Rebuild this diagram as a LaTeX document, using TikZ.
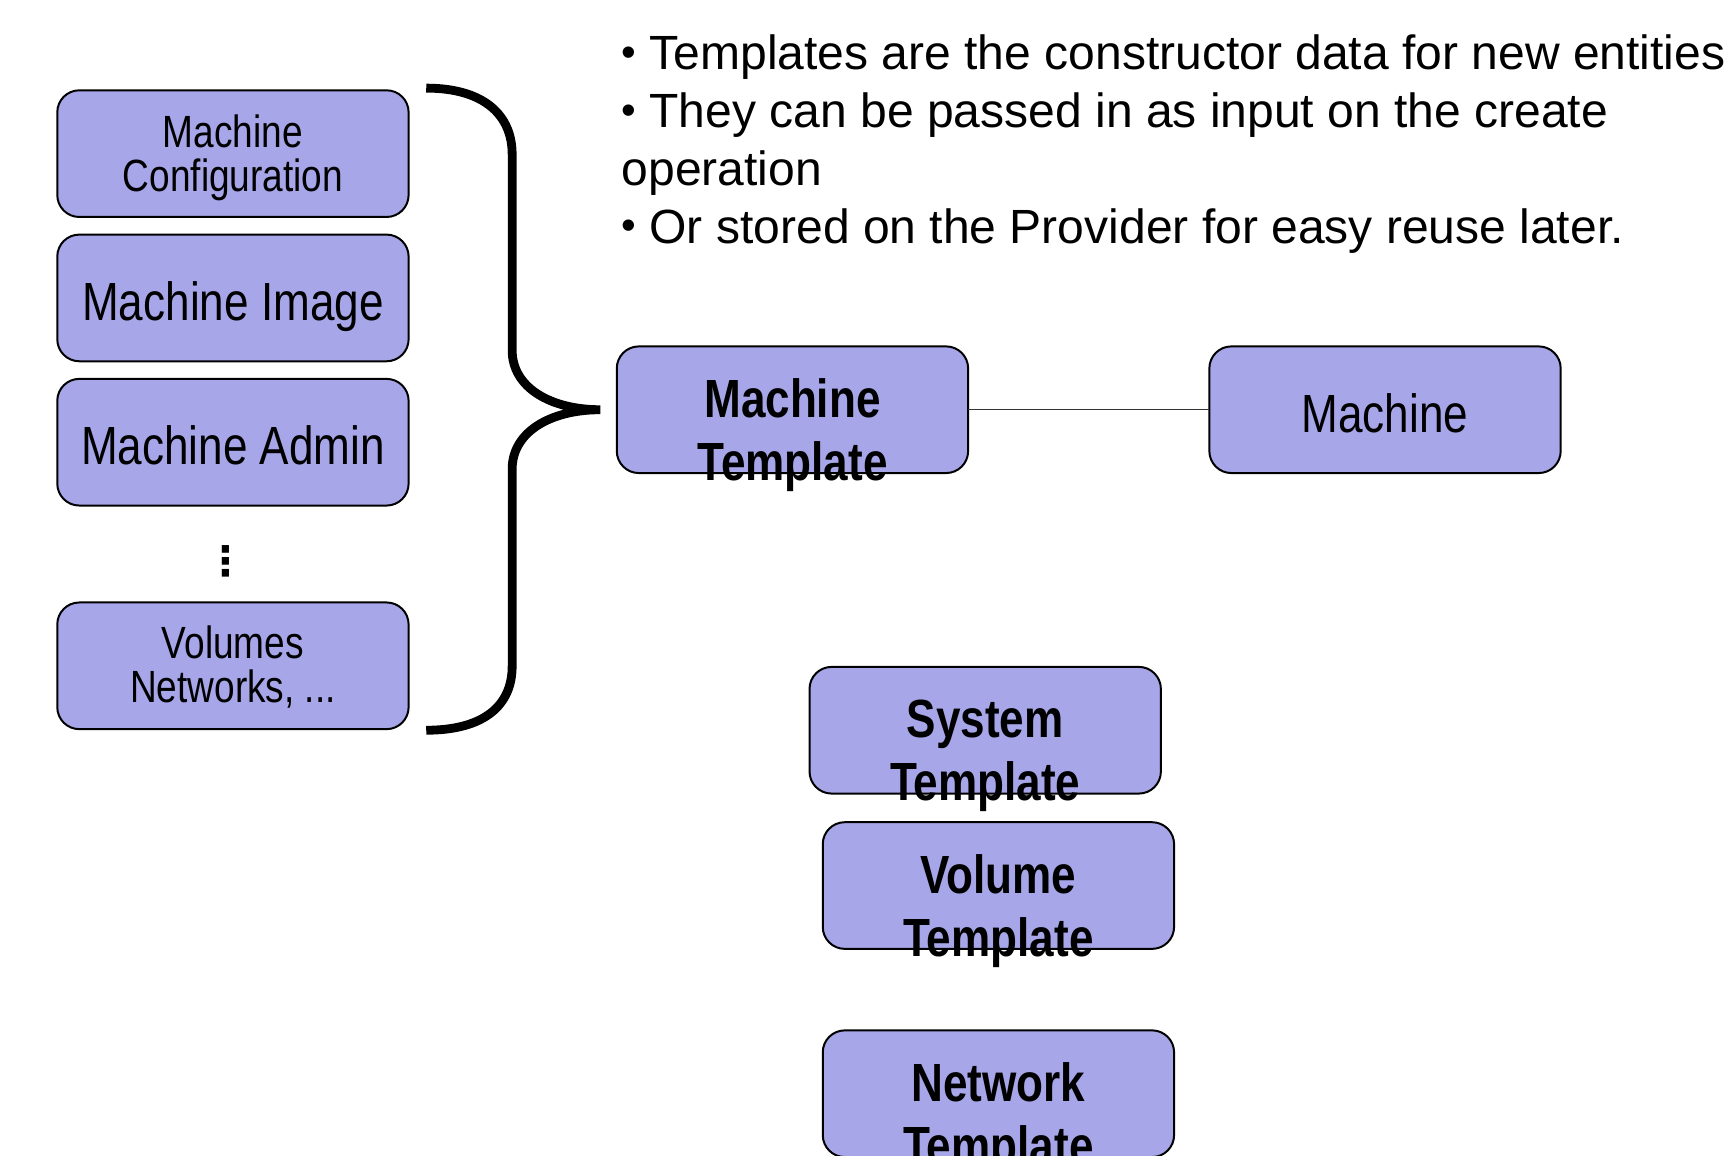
\documentclass[tikz,border=0pt]{standalone}
\usepackage{fontspec}
\setmainfont{Liberation Sans}
\newfontfamily\narrowfont[FakeStretch=0.82]{Liberation Sans}
\newfontfamily\symbolfont{DejaVu Sans}
\usetikzlibrary{positioning}
\definecolor{boxblue}{RGB}{166,166,232}
\newcommand{\notebullet}{\raisebox{1.5pt}{\fontsize{19}{19}\selectfont•}}

\begin{document}
\begin{tikzpicture}
    [
        x=0.5pt, y=-0.5pt, node distance=8pt,
        blue_box/.style={rectangle, rounded corners=10pt, draw=black, fill=boxblue, line width=0.9pt, minimum width=159.5pt, minimum height=57.5pt, inner sep=0pt, outer sep=0pt},
        small_text/.style={font=\narrowfont\fontsize{20.5}{20}\selectfont, align=center, inner sep=0pt, anchor=north},
        large_text/.style={font=\narrowfont\fontsize{24.4}{28.5}\selectfont, align=center, inner sep=0pt, anchor=north},
        bold_text/.style={font=\narrowfont\bfseries\fontsize{24.4}{28.5}\selectfont, align=center, inner sep=0pt, anchor=north},
    ]
        \clip (0,0) rectangle (1568,1049);
        % parts that make up a machine
        \node[blue_box] (conf) at (211.5,139.5) {};
        \node[blue_box] (image) [below = of conf] {};
        \node[blue_box] (admin) [below = of image] {};
        \node[blue_box] (vols) [below = 44pt of admin] {};
        \node[small_text] (conf_text) [below = 11pt of conf.north] {Machine\\Configuration};
        \node[large_text] (image_text) [below = 21pt of image.north] {Machine Image};
        \node[large_text] (admin_text) [below = 21pt of admin.north] {Machine Admin};
        \node[small_text] (vols_text) [below = 10.5pt of vols.north] {Volumes\\Networks, ...};
        \node[font=\symbolfont\bfseries\fontsize{18.5}{18.5}\selectfont, inner sep=0pt] (more) at (205.5,510) {⋮};
        \draw[line width=4pt] (387,80) .. controls (440,80) and (465,105) .. (465,140) -- (465,318) .. controls (465,352) and (500,372) .. (545,372) .. controls (500,372) and (465,392) .. (465,426) -- (465,605) .. controls (465,640) and (440,663) .. (387,663) ;
        % templates
        \node[blue_box] (mtpl) at (719.5,372) {};
        \node[blue_box] (machine) [right = 109.5pt of mtpl] {};
        \node[blue_box] (stpl) at (894.5,663) {};
        \node[blue_box] (vtpl) [below = 13pt of stpl, xshift=6pt] {};
        \node[blue_box] (ntpl) [below = 37pt of vtpl] {};
        \node[bold_text] (mtpl_text) [below = 14.5pt of mtpl.north] {Machine\\Template};
        \node[large_text] (machine_text) [below = 21pt of machine.north] {Machine};
        \node[bold_text] (stpl_text) [below = 15pt of stpl.north] {System\\Template};
        \node[bold_text] (vtpl_text) [below = 14.5pt of vtpl.north] {Volume\\Template};
        \node[bold_text] (ntpl_text) [below = 14.5pt of ntpl.north] {Network\\Template};
        \draw[line width=0.6pt, color=black!80] (mtpl) -- (machine) ;
        % notes
        \node[font=\fontsize{21.8}{26.3}\selectfont, align=left, inner sep=0pt, anchor=north west] (notes) at (564,31) {\notebullet{} Templates are the constructor data for new entities\\\notebullet{} They can be passed in as input on the create\\operation\\\notebullet{} Or stored on the Provider for easy reuse later.};
    \end{tikzpicture}
\end{document}
